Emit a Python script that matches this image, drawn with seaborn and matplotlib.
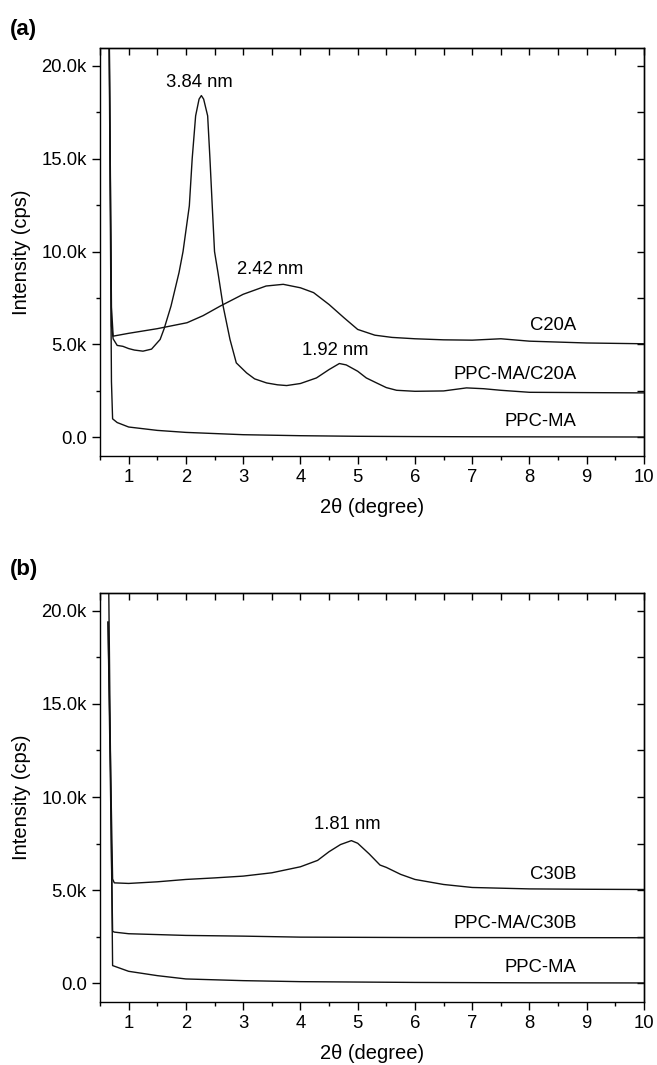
import numpy as np
import pandas as pd
import matplotlib
matplotlib.use("Agg")
import matplotlib.pyplot as plt
from matplotlib.ticker import MultipleLocator, FuncFormatter
import seaborn as sns

# ---- panel (a): C20A series ----
a_ppcma_c20a_x = [0.64, 0.70, 0.73, 0.80, 0.90, 1.00, 1.10, 1.25, 1.40, 1.55, 1.62, 1.74, 1.88,
                  1.95, 2.06, 2.11, 2.17, 2.23, 2.27, 2.31, 2.38, 2.42, 2.46, 2.50, 2.56, 2.65,
                  2.77, 2.88, 3.06, 3.20, 3.41, 3.60, 3.76, 4.00, 4.28, 4.50, 4.68, 4.80, 5.00,
                  5.15, 5.33, 5.50, 5.68, 6.00, 6.50, 6.90, 7.20, 7.50, 8.00, 9.00, 10.00]
a_ppcma_c20a_y = [30000, 6000, 5300, 4950, 4900, 4780, 4700, 4640, 4750, 5270, 5850, 7066, 8870,
                  10000, 12460, 15000, 17300, 18200, 18390, 18200, 17300, 15000, 12460, 10000, 8870, 7066,
                  5270, 4010, 3470, 3150, 2930, 2830, 2790, 2900, 3200, 3650, 3975, 3900, 3560,
                  3200, 2930, 2680, 2535, 2481, 2500, 2664, 2620, 2535, 2427, 2410, 2395]

a_c20a_x = [0.64, 0.70, 0.73, 1.00, 1.50, 2.02, 2.30, 2.60, 3.00, 3.40, 3.70, 4.00, 4.23,
            4.50, 4.76, 5.00, 5.30, 5.60, 6.00, 6.50, 7.00, 7.50, 8.00, 9.00, 10.00]
a_c20a_y = [30000, 7000, 5448, 5600, 5850, 6170, 6550, 7066, 7700, 8145, 8236, 8050, 7789,
            7150, 6440, 5809, 5500, 5380, 5307, 5250, 5232, 5307, 5178, 5080, 5038]

a_ppcma_x = [0.64, 0.70, 0.72, 0.80, 1.00, 1.50, 2.00, 3.00, 4.00, 5.00, 6.00, 7.00, 8.00, 10.00]
a_ppcma_y = [30000, 3000, 1000, 800, 560, 378, 270, 146, 92, 60, 45, 35, 30, 22]

# ---- panel (b): C30B series ----
b_c30b_x = [0.64, 0.72, 0.75, 1.00, 1.50, 2.00, 2.50, 3.00, 3.50, 4.00, 4.30, 4.50, 4.70,
            4.89, 5.00, 5.20, 5.39, 5.50, 5.75, 6.00, 6.50, 7.00, 8.00, 9.00, 10.00]
b_c30b_y = [19400, 5600, 5394, 5363, 5450, 5577, 5660, 5756, 5934, 6257, 6600, 7066, 7450,
            7660, 7519, 6950, 6350, 6224, 5850, 5577, 5307, 5146, 5070, 5050, 5038]

b_ppcma_c30b_x = [0.64, 0.72, 0.75, 1.00, 2.00, 3.00, 4.00, 6.00, 8.00, 10.00]
b_ppcma_c30b_y = [19400, 2800, 2751, 2664, 2573, 2535, 2481, 2460, 2455, 2449]

b_ppcma_x = [0.64, 0.72, 1.00, 1.50, 2.00, 3.00, 4.00, 6.00, 8.00, 10.00]
b_ppcma_y = [25000, 955, 647, 415, 237, 146, 92, 50, 30, 22]

# curve labels: (text, x, y)
a_labels = [("C20A", 8.82, 6000), ("PPC-MA/C20A", 8.82, 3380), ("PPC-MA", 8.82, 870)]
b_labels = [("C30B", 8.82, 5840), ("PPC-MA/C30B", 8.82, 3200), ("PPC-MA", 8.82, 875)]
# peak annotations: (text, x, y)
a_peaks = [("3.84 nm", 2.23, 19100), ("2.42 nm", 3.47, 9040), ("1.92 nm", 4.60, 4650)]
b_peaks = [("1.81 nm", 4.82, 8500)]

sns.set_theme(style="ticks")
plt.rcParams["font.family"] = ["Liberation Sans", "DejaVu Sans"]
plt.rcParams["axes.linewidth"] = 1.0
plt.rcParams["text.color"] = "black"
plt.rcParams["axes.labelcolor"] = "black"
plt.rcParams["xtick.color"] = "black"
plt.rcParams["ytick.color"] = "black"

W, H = 657, 1065
fig = plt.figure(figsize=(W / 100, H / 100), dpi=100)

ax_a = fig.add_axes([100 / W, 1 - 456 / H, 544 / W, 408 / H])
ax_b = fig.add_axes([100 / W, 1 - 1002 / H, 544 / W, 409 / H])

LINE = "#111111"
TICK_FS = 13.3
TEXT_FS = 13.3
LABEL_FS = 14.5


def kfmt(v, pos):
    if abs(v) < 1e-9:
        return "0.0"
    return f"{v / 1000:.1f}k"


def style_axes(ax):
    ax.set_xlim(0.5, 10.0)
    ax.set_ylim(-1000, 20950)
    for s in ax.spines.values():
        s.set_visible(True)
        s.set_color("black")
        s.set_linewidth(1.0)
    ax.xaxis.set_major_locator(MultipleLocator(1))
    ax.xaxis.set_minor_locator(MultipleLocator(0.5))
    ax.yaxis.set_major_locator(MultipleLocator(5000))
    ax.yaxis.set_minor_locator(MultipleLocator(2500))
    ax.yaxis.set_major_formatter(FuncFormatter(kfmt))
    ax.tick_params(which="major", direction="out", length=6, width=1.0,
                   labelsize=TICK_FS, colors="black", pad=3.5)
    ax.tick_params(which="minor", direction="out", length=3, width=1.0, colors="black")
    ax.set_xlabel("2θ (degree)", fontsize=LABEL_FS, va="top")
    ax.set_ylabel("Intensity (cps)", fontsize=LABEL_FS)
    ax.xaxis.set_label_coords(0.5, -0.103)
    ax.yaxis.set_label_coords(-0.127, 0.5)

    top = ax.secondary_xaxis("top")
    top.xaxis.set_major_locator(MultipleLocator(1))
    top.xaxis.set_minor_locator(MultipleLocator(0.5))
    top.tick_params(which="both", direction="in", length=5, width=1.0, labeltop=False)
    right = ax.secondary_yaxis("right")
    right.yaxis.set_major_locator(MultipleLocator(5000))
    right.yaxis.set_minor_locator(MultipleLocator(2500))
    right.tick_params(which="both", direction="in", length=5, width=1.0, labelright=False)


def draw(ax, series):
    for xs, ys in series:
        df = pd.DataFrame({"theta": xs, "intensity": ys})
        sns.lineplot(data=df, x="theta", y="intensity", ax=ax, color=LINE,
                     linewidth=1.0, sort=False, estimator=None)


draw(ax_a, [(a_ppcma_c20a_x, a_ppcma_c20a_y), (a_c20a_x, a_c20a_y), (a_ppcma_x, a_ppcma_y)])
draw(ax_b, [(b_c30b_x, b_c30b_y), (b_ppcma_c30b_x, b_ppcma_c30b_y), (b_ppcma_x, b_ppcma_y)])

for ax, labels, peaks in [(ax_a, a_labels, a_peaks), (ax_b, b_labels, b_peaks)]:
    style_axes(ax)
    for txt, x, y in labels:
        ax.text(x, y, txt, ha="right", va="center", fontsize=TEXT_FS)
    for txt, x, y in peaks:
        ax.text(x, y, txt, ha="center", va="center", fontsize=TEXT_FS)

fig.text(10 / W, 1 - 29 / H, "(a)", fontsize=16, fontweight="bold", ha="left", va="center")
fig.text(10 / W, 1 - 570 / H, "(b)", fontsize=16, fontweight="bold", ha="left", va="center")

fig.savefig("out.png", dpi=100)
